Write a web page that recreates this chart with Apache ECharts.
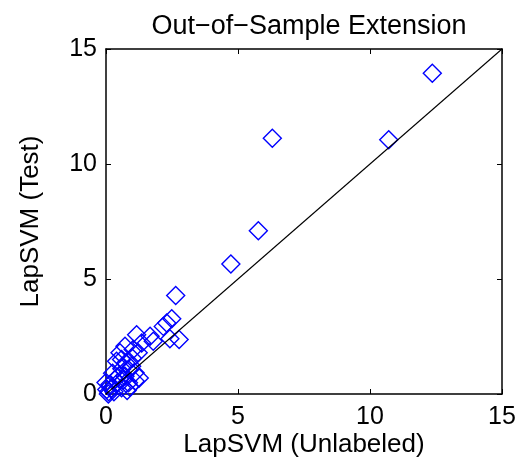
<!DOCTYPE html>
<html><head><meta charset="utf-8">
<script src="https://cdn.jsdelivr.net/npm/echarts@6/dist/echarts.min.js"></script>
<style>html,body{margin:0;padding:0;background:#fff}#c{width:522px;height:458px}</style>
</head><body><div id="c"></div>
<script>
const titleText = "Out\u2212of\u2212Sample Extension";
const xName = "LapSVM (Unlabeled)";
const yName = "LapSVM (Test)";
const xTicks = [0, 5, 10, 15];
const yTicks = [0, 5, 10, 15];
const unlabeled = [12.36,10.71,6.30,5.77,4.73,2.64,2.49,2.30,2.77,2.42,2.17,1.67,1.79,1.16,1.35,0.72,1.03,1.22,0.53,0.59,0.40,0.97,0.85,1.10,0.72,1.10,0.85,0.34,0.15,0.03,0.09,0.45,0.59,0.30,0.00,0.60,0.75,0.90,0.20,0.50,0.65,0.25,1.00,0.10,0.80,1.26];
const test =      [13.95,11.05,11.12,7.10,5.65,4.28,3.27,3.09,2.37,2.40,2.94,2.51,2.29,2.58,2.22,2.08,1.93,1.79,1.79,1.50,1.42,1.21,1.05,0.92,0.77,0.56,0.49,0.63,0.41,0.20,0.00,0.50,0.27,0.10,0.50,1.10,1.35,0.30,0.25,0.80,0.60,0.90,1.55,0.10,0.15,0.70];
const diagX = [0, 15];
const diagY = [0, 15];

const font = "Liberation Sans";
const chart = echarts.init(document.getElementById('c'));
const pts = unlabeled.map((x,i)=>[x, test[i]]);
const diag = diagX.map((x,i)=>[x, diagY[i]]);
const axCommon = {
  type:'value', min:xTicks[0], max:xTicks[xTicks.length-1], interval:xTicks[1]-xTicks[0],
  axisLine:{show:true, onZero:false, lineStyle:{color:'#000', width:1.5}},
  axisTick:{show:true, inside:true, length:5, lineStyle:{color:'#000', width:1}},
  splitLine:{show:false}
};
chart.setOption({
  animation:false,
  backgroundColor:'#fff',
  title:{text:titleText, left:304, top:8, textAlign:'center',
    textStyle:{fontFamily:font, fontSize:27, fontWeight:'normal', color:'#000'}},
  grid:{left:106, right:20, top:49, bottom:64, containLabel:false, outerBoundsMode:'none'},
  xAxis:[
    Object.assign({}, axCommon, {position:'bottom', name:xName, nameLocation:'middle', nameGap:38,
      nameMoveOverlap:false,
      nameTextStyle:{fontFamily:font, fontSize:26, color:'#000'},
      axisLabel:{show:true, margin:11, fontFamily:font, fontSize:25, color:'#000'}}),
    Object.assign({}, axCommon, {position:'top', axisLabel:{show:false}})
  ],
  yAxis:[
    Object.assign({}, axCommon, {min:yTicks[0], max:yTicks[yTicks.length-1], interval:yTicks[1]-yTicks[0],
      position:'left', name:yName, nameLocation:'middle', nameGap:62, nameMoveOverlap:false,
      nameTextStyle:{fontFamily:font, fontSize:26, color:'#000'},
      axisLabel:{show:true, margin:9, fontFamily:font, fontSize:25, color:'#000'}}),
    Object.assign({}, axCommon, {min:yTicks[0], max:yTicks[yTicks.length-1], interval:yTicks[1]-yTicks[0],
      position:'right', axisLabel:{show:false}})
  ],
  series:[
    {type:'scatter', data:pts, symbol:'diamond', symbolSize:18, z:2,
      itemStyle:{color:'rgba(0,0,0,0)', borderColor:'#0000ff', borderWidth:1.4, opacity:1}},
    {type:'line', data:diag, symbol:'none', z:3, lineStyle:{color:'#000', width:1.1}}
  ]
});
</script></body></html>
